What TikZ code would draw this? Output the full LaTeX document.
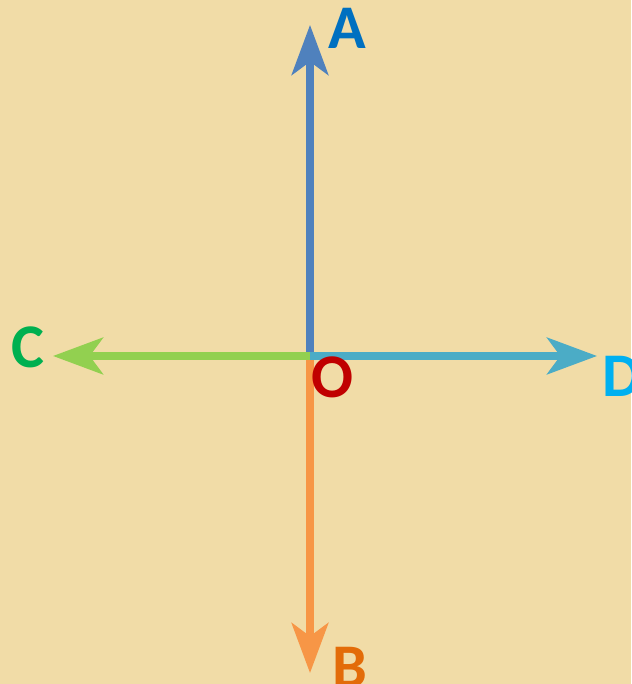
\documentclass[tikz,border=0pt]{standalone}
\usepackage{fontspec}
\setmainfont{Carlito}
\usetikzlibrary{arrows.meta,positioning}
\definecolor{paper}{RGB}{241,220,167}
\definecolor{arA}{RGB}{79,129,189}
\definecolor{arB}{RGB}{247,150,70}
\definecolor{arC}{RGB}{146,208,80}
\definecolor{arD}{RGB}{75,172,198}
\definecolor{txA}{RGB}{0,112,192}
\definecolor{txB}{RGB}{227,108,9}
\definecolor{txC}{RGB}{0,176,80}
\definecolor{txD}{RGB}{0,176,240}
\definecolor{txO}{RGB}{192,0,0}

\begin{document}
\begin{tikzpicture}[x=0.03cm,y=0.03cm,>={Stealth[length=1.5cm,width=1.1cm,inset=0.4cm]},
  ray/.style={->,line width=0.22cm},
  lbl/.style={inner sep=0pt,font=\fontsize{53}{53}\selectfont\bfseries}]
% paper
\fill[paper] (0,0) rectangle (631,684);
\useasboundingbox (0,0) rectangle (631,684);
% points
\coordinate (O) at (310,328);
\coordinate (tA) at (310,659);
\coordinate (tB) at (310,11);
\coordinate (tC) at (53,328);
\coordinate (tD) at (597,328);
% rays
\draw[ray,arA] (O)--(tA);
\draw[ray,arB] (O)--(tB);
\draw[ray,arC] (O)--(tC);
\draw[ray,arD] (O)--(tD);
% labels
\node[lbl,txA] (A) at (347,656) {A};
\node[lbl,txC] (C) at (28,337) {C};
\node[lbl,txD,anchor=west] (D) at (602,308) {D};
\node[lbl,txB,anchor=north west] (B) at (332,37) {B};
\node[lbl,txO] (Olbl) at (332,307) {O};
\end{tikzpicture}
\end{document}
